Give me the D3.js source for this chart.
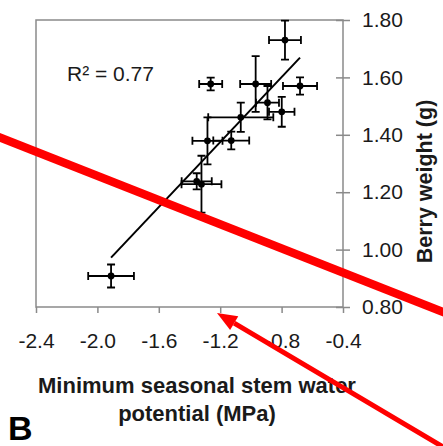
<!DOCTYPE html>
<html>
<head>
<meta charset="utf-8">
<script src="https://cdn.jsdelivr.net/npm/d3@7"></script>
<style>
	body { margin: 0; background: #fff; }
	svg { display: block; font-family: "Liberation Sans", Arial, sans-serif; }
</style>
</head>
<body>
<svg id="chart" width="443" height="446"></svg>
<script>
// Stem water potential (MPa) and its error
var waterPotential = [-1.911, -1.262, -0.778, -0.969, -0.680, -0.892, -0.799, -1.066, -1.283, -1.128, -1.353, -1.322];
var waterPotentialErr = [0.149, 0.075, 0.104, 0.101, 0.111, 0.075, 0.083, 0.212, 0.098, 0.117, 0.098, 0.130];

// Berry weight (g) and its error
var berryWeight = [0.908, 1.577, 1.730, 1.577, 1.570, 1.512, 1.480, 1.461, 1.379, 1.380, 1.238, 1.228];
var berryWeightErr = [0.040, 0.022, 0.068, 0.097, 0.030, 0.058, 0.052, 0.051, 0.082, 0.031, 0.028, 0.099];

// Fitted line end points
var fitX = [-1.911, -0.680];
var fitY = [0.972, 1.669];

// Tick labels
var xTicks = [-2.4, -2.0, -1.6, -1.2, -0.8, -0.4];
var yTicks = [0.8, 1.0, 1.2, 1.4, 1.6, 1.8];

// Red annotations drawn over the figure (in data units)
var redLineX = [-2.75, 0.35];
var redLineY = [1.415, 0.762];
var arrowX = [0.37, -1.221];   // tail, tip
var arrowY = [0.275, 0.779];

var svg = d3.select('#chart');
var box = {left: 36, right: 343, top: 20, bottom: 307};
var textColor = '#1a1a1a', frameColor = '#8a8a8a';

var x = d3.scaleLinear().domain([-2.4, -0.4]).range([box.left, box.right]);
var y = d3.scaleLinear().domain([0.8, 1.8]).range([box.bottom, box.top]);

var points = waterPotential.map(function(d, i) {
	return {x: d, ex: waterPotentialErr[i], y: berryWeight[i], ey: berryWeightErr[i]};
});

// Frame
svg.append('rect')
	.attr('x', box.left).attr('y', box.top)
	.attr('width', box.right - box.left).attr('height', box.bottom - box.top)
	.style('fill', 'none').style('stroke', frameColor).style('stroke-width', 1.5);

// X axis
var xAxis = svg.append('g')
	.attr('transform', 'translate(0,' + box.bottom + ')')
	.call(d3.axisBottom(x).tickValues(xTicks).tickSize(6).tickPadding(20)
		.tickFormat(function(d) { return d.toFixed(1); }));
xAxis.select('.domain').remove();
xAxis.selectAll('line').style('stroke', frameColor).style('stroke-width', 1.5);
xAxis.selectAll('text').style('font-size', '21px').style('fill', textColor);

// Y axis on the right, ticks crossing the frame
var yAxis = svg.append('g')
	.attr('transform', 'translate(' + box.right + ',0)')
	.call(d3.axisRight(y).tickValues(yTicks).tickSize(7).tickPadding(12)
		.tickFormat(function(d) { return d.toFixed(2); }));
yAxis.select('.domain').remove();
yAxis.selectAll('line').attr('x1', -7).style('stroke', frameColor).style('stroke-width', 1.5);
yAxis.selectAll('text').style('font-size', '21px').style('fill', textColor);

// Fitted line
svg.append('line')
	.attr('x1', x(fitX[0])).attr('y1', y(fitY[0]))
	.attr('x2', x(fitX[1])).attr('y2', y(fitY[1]))
	.style('stroke', '#000').style('stroke-width', 2);

// Error bars and points
var cap = 4;
var pt = svg.selectAll('.pt').data(points).enter().append('g').attr('class', 'pt');
pt.append('path')
	.attr('d', function(d) {
		var cx = x(d.x), cy = y(d.y), x0 = x(d.x - d.ex), x1 = x(d.x + d.ex), y0 = y(d.y - d.ey), y1 = y(d.y + d.ey);
		return 'M' + x0 + ',' + cy + 'H' + x1 +
			'M' + x0 + ',' + (cy - cap) + 'V' + (cy + cap) +
			'M' + x1 + ',' + (cy - cap) + 'V' + (cy + cap) +
			'M' + cx + ',' + y0 + 'V' + y1 +
			'M' + (cx - cap) + ',' + y0 + 'H' + (cx + cap) +
			'M' + (cx - cap) + ',' + y1 + 'H' + (cx + cap);
	})
	.style('fill', 'none').style('stroke', '#000').style('stroke-width', 1.8);
pt.append('circle')
	.attr('cx', function(d) { return x(d.x); })
	.attr('cy', function(d) { return y(d.y); })
	.attr('r', 3.4)
	.style('fill', '#000');

// R squared label
svg.append('text')
	.attr('x', 67).attr('y', 81)
	.style('font-size', '21px').style('fill', textColor)
	.text('R² = 0.77');

// Axis titles
svg.append('text')
	.attr('transform', 'translate(432,181.5) rotate(-90)')
	.attr('text-anchor', 'middle')
	.style('font-size', '21.5px').style('font-weight', 'bold').style('fill', textColor)
	.text('Berry weight (g)');

var xTitle = svg.append('text')
	.attr('text-anchor', 'middle')
	.style('font-size', '22px').style('font-weight', 'bold').style('fill', textColor);
xTitle.append('tspan').attr('x', 197).attr('y', 393).text('Minimum seasonal stem water');
xTitle.append('tspan').attr('x', 197).attr('y', 420.5).text('potential (MPa)');

// Panel letter
svg.append('text')
	.attr('x', 8).attr('y', 440)
	.style('font-size', '34px').style('font-weight', 'bold').style('fill', '#000')
	.text('B');

// Red annotation line and arrow
var red = '#ff0000';
svg.append('line')
	.attr('x1', x(redLineX[0])).attr('y1', y(redLineY[0]))
	.attr('x2', x(redLineX[1])).attr('y2', y(redLineY[1]))
	.style('stroke', red).style('stroke-width', 8.5);

var tx = x(arrowX[0]), ty = y(arrowY[0]), hx = x(arrowX[1]), hy = y(arrowY[1]);
var len = Math.sqrt((tx - hx) * (tx - hx) + (ty - hy) * (ty - hy));
var ux = (tx - hx) / len, uy = (ty - hy) / len;
var headLen = 20, headHalf = 8;
var bx = hx + ux * headLen, by = hy + uy * headLen;
svg.append('line')
	.attr('x1', tx).attr('y1', ty).attr('x2', bx).attr('y2', by)
	.style('stroke', red).style('stroke-width', 5);
svg.append('path')
	.attr('d', 'M' + hx + ',' + hy +
		'L' + (bx - uy * headHalf) + ',' + (by + ux * headHalf) +
		'L' + (bx + uy * headHalf) + ',' + (by - ux * headHalf) + 'Z')
	.style('fill', red);
</script>
</body>
</html>
